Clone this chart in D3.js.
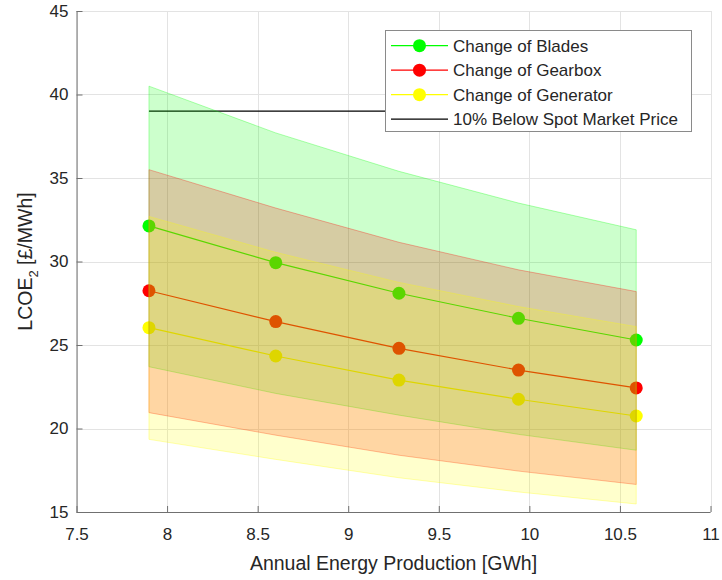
<!DOCTYPE html>
<html lang="en">
<head>
  <meta charset="utf-8">
  <title>LCOE vs AEP</title>
  <script src="https://cdn.jsdelivr.net/npm/d3@7"></script>
  <style type="text/css">
    body { margin: 0; background: #fff; }
    svg { display: block; font-family: "Liberation Sans", Arial, sans-serif; }
  </style>
</head>
<body>
<svg id="chart" width="722" height="580"></svg>

<script type="text/javascript">

// data
var aep = [7.9, 8.6, 9.28, 9.94, 10.59];

var bladesMid   = [32.13, 29.93, 28.1, 26.6, 25.3];
var bladesUpper = [40.5, 37.7, 35.4, 33.5, 31.9];
var bladesLower = [23.7, 22.1, 20.8, 19.65, 18.7];

var gearboxMid   = [28.25, 26.4, 24.8, 23.5, 22.43];
var gearboxUpper = [35.5, 33.2, 31.15, 29.5, 28.2];
var gearboxLower = [20.95, 19.6, 18.4, 17.45, 16.65];

var generatorMid   = [26.04, 24.34, 22.9, 21.75, 20.75];
var generatorUpper = [32.7, 30.55, 28.75, 27.3, 26.1];
var generatorLower = [19.35, 18.15, 17.05, 16.2, 15.48];

var spotPrice = 39;
var spotRange = [7.9, 10.59];

var xTicks = [7.5, 8, 8.5, 9, 9.5, 10, 10.5, 11];
var yTicks = [15, 20, 25, 30, 35, 40, 45];

var seriesNames = ["Change of Blades", "Change of Gearbox", "Change of Generator", "10% Below Spot Market Price"];

// series table built from the arrays above
var series = [
  { name: seriesNames[0], color: "#00ff00", mid: bladesMid, upper: bladesUpper, lower: bladesLower },
  { name: seriesNames[1], color: "#ff0000", mid: gearboxMid, upper: gearboxUpper, lower: gearboxLower },
  { name: seriesNames[2], color: "#ffff00", mid: generatorMid, upper: generatorUpper, lower: generatorLower }
];

var textColor = "#262626";
var svg = d3.select("#chart");

var x = d3.scaleLinear().domain([7.5, 11]).range([76.5, 710.5]);
var y = d3.scaleLinear().domain([15, 45]).range([512, 11]);

// grid
var grid = svg.append("g").attr("shape-rendering", "crispEdges");
grid.selectAll(".gx").data(xTicks).enter().append("line")
  .attr("x1", function(d) { return Math.round(x(d)) + 0.5; })
  .attr("x2", function(d) { return Math.round(x(d)) + 0.5; })
  .attr("y1", y(45)).attr("y2", y(15))
  .attr("stroke", "#e3e3e3");
grid.selectAll(".gy").data(yTicks).enter().append("line")
  .attr("y1", function(d) { return Math.round(y(d)) + 0.5; })
  .attr("y2", function(d) { return Math.round(y(d)) + 0.5; })
  .attr("x1", x(7.5)).attr("x2", x(11))
  .attr("stroke", "#e3e3e3");

// lines + markers (drawn under the bands, like the original)
var lineGen = d3.line()
  .x(function(d) { return x(d[0]); })
  .y(function(d) { return y(d[1]); });

series.forEach(function(s) {
  var pts = d3.zip(aep, s.mid);
  svg.append("path")
    .attr("d", lineGen(pts))
    .attr("fill", "none")
    .attr("stroke", s.color)
    .attr("stroke-width", 1.2);
  svg.append("g").selectAll("circle").data(pts).enter().append("circle")
    .attr("cx", function(d) { return x(d[0]); })
    .attr("cy", function(d) { return y(d[1]); })
    .attr("r", 6.5)
    .attr("fill", s.color);
});

// spot market line
svg.append("line")
  .attr("x1", x(spotRange[0])).attr("x2", x(spotRange[1]))
  .attr("y1", y(spotPrice)).attr("y2", y(spotPrice))
  .attr("stroke", "#000")
  .attr("stroke-width", 1.2);

// bands
var areaGen = d3.area()
  .x(function(d) { return x(d[0]); })
  .y0(function(d) { return y(d[1]); })
  .y1(function(d) { return y(d[2]); });

series.forEach(function(s) {
  svg.append("path")
    .attr("d", areaGen(d3.zip(aep, s.lower, s.upper)) + "Z")
    .attr("fill", s.color)
    .attr("fill-opacity", 0.2)
    .attr("stroke", s.color)
    .attr("stroke-opacity", 0.3)
    .attr("stroke-width", 1);
});

// axes
var xAxis = svg.append("g")
  .attr("transform", "translate(0," + 512 + ")")
  .call(d3.axisBottom(x).tickValues(xTicks).tickSize(-6).tickPadding(16)
        .tickFormat(function(d) { return d; }));
var yAxis = svg.append("g")
  .attr("transform", "translate(" + 76.5 + ",0)")
  .call(d3.axisLeft(y).tickValues(yTicks).tickSize(-6).tickPadding(8));

[xAxis, yAxis].forEach(function(a) {
  a.select(".domain").attr("stroke", "#707070");
  a.selectAll(".tick line").attr("stroke", "#707070");
  a.selectAll("text")
    .attr("fill", textColor)
    .style("font-size", "17px")
    .style("font-family", "'Liberation Sans', Arial, sans-serif");
});
yAxis.select(".domain").attr("d", "M0.5,512V11");
xAxis.select(".domain").attr("d", "M76.5,0.5H710.5");

// axis labels
svg.append("text")
  .attr("x", 393.5).attr("y", 570)
  .attr("text-anchor", "middle")
  .attr("fill", textColor)
  .style("font-size", "19.5px")
  .text("Annual Energy Production [GWh]");

var yl = svg.append("text")
  .attr("transform", "translate(32,261.5) rotate(-90)")
  .attr("text-anchor", "middle")
  .attr("fill", textColor)
  .style("font-size", "19.5px");
yl.append("tspan").text("LCOE");
yl.append("tspan").attr("dy", 6).style("font-size", "13px").text("2");
yl.append("tspan").attr("dy", -6).text(" [£/MWh]");

// legend
var legend = svg.append("g");
legend.append("rect")
  .attr("x", 385.5).attr("y", 30.5)
  .attr("width", 306).attr("height", 101)
  .attr("fill", "#fff")
  .attr("stroke", "#8a8a8a");

var legendItems = series.map(function(s) { return { name: s.name, color: s.color, marker: true }; });
legendItems.push({ name: seriesNames[3], color: "#000", marker: false });

var rows = legend.selectAll(".row").data(legendItems).enter().append("g")
  .attr("transform", function(d, i) { return "translate(0," + (45.7 + i * 24.5) + ")"; });
rows.append("line")
  .attr("x1", 391).attr("x2", 448)
  .attr("stroke", function(d) { return d.color; })
  .attr("stroke-width", 1.2);
rows.filter(function(d) { return d.marker; }).append("circle")
  .attr("cx", 419.5).attr("r", 6.5)
  .attr("fill", function(d) { return d.color; });
rows.append("text")
  .attr("x", 453).attr("dy", "0.35em")
  .attr("fill", textColor)
  .style("font-size", "17px")
  .text(function(d) { return d.name; });

</script>
</body>
</html>
